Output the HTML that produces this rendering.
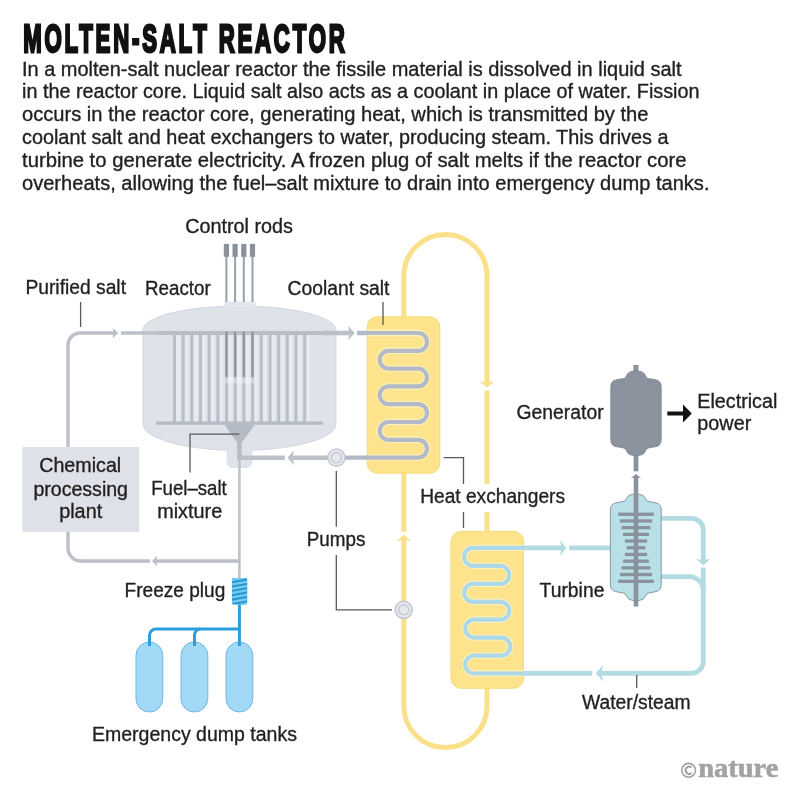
<!DOCTYPE html>
<html><head><meta charset="utf-8">
<style>
html,body{margin:0;padding:0;background:#fff;}
body{width:799px;height:800px;overflow:hidden;}
svg{display:block;}
text{font-family:"Liberation Sans",sans-serif;fill:#231f20;}
svg{will-change:transform;}
.tx text{stroke:#231f20;stroke-width:0.35px;}
</style></head><body>
<svg width="799" height="800" viewBox="0 0 799 800">
<rect width="799" height="800" fill="#fff"/>
<text transform="translate(23.2,51.6) scale(0.56,1)" x="0" y="0" font-weight="bold" font-size="39.6" textLength="574.1" lengthAdjust="spacing" stroke="#111" stroke-width="2.3" vector-effect="non-scaling-stroke" style="fill:#111">MOLTEN-SALT REACTOR</text>
<g class="tx">
<text x="22.0" y="75.5" font-size="19.3" textLength="659.5" lengthAdjust="spacingAndGlyphs" >In a molten-salt nuclear reactor the fissile material is dissolved in liquid salt</text>
<text x="22.0" y="98.3" font-size="19.3" textLength="677.5" lengthAdjust="spacingAndGlyphs" >in the reactor core. Liquid salt also acts as a coolant in place of water. Fission</text>
<text x="22.0" y="121.1" font-size="19.3" textLength="626.5" lengthAdjust="spacingAndGlyphs" >occurs in the reactor core, generating heat, which is transmitted by the</text>
<text x="22.0" y="143.9" font-size="19.3" textLength="646.5" lengthAdjust="spacingAndGlyphs" >coolant salt and heat exchangers to water, producing steam. This drives a</text>
<text x="22.0" y="166.7" font-size="19.3" textLength="664.5" lengthAdjust="spacingAndGlyphs" >turbine to generate electricity. A frozen plug of salt melts if the reactor core</text>
<text x="22.0" y="189.5" font-size="19.3" textLength="687.5" lengthAdjust="spacingAndGlyphs" >overheats, allowing the fuel–salt mixture to drain into emergency dump tanks.</text>
</g>
<g fill="none" stroke="#fbe08a" stroke-width="5">
<path d="M403.8,317 V276 A41.6,41.6 0 0 1 487,276 V531"/>
<path d="M403.8,472 V706 A41.6,41.6 0 0 0 487,706 V687"/>
</g>
<rect x="367.2" y="316.8" width="72.6" height="156.4" rx="10" fill="#fce38c" stroke="#f8db78" stroke-width="1"/>
<rect x="451" y="531.4" width="72.6" height="156.9" rx="10" fill="#fce38c" stroke="#f8db78" stroke-width="1"/>
<g fill="none" stroke="#b2dce2" stroke-width="4.8">
<path d="M523,547.9 H611"/>
<path d="M661,518.3 H691.3 A12,12 0 0 1 703.3,530.3 V661.4 A12,12 0 0 1 691.3,673.4 H520"/>
<path d="M661,576.6 H689.3 A14,14 0 0 1 703.3,590.6"/>
</g>
<clipPath id="hx2c"><rect x="451.5" y="531.9" width="71.6" height="155.9" rx="10"/></clipPath>
<path fill="none" stroke="#fdf1bd" stroke-width="6.4" d="M524.0,547.9 H473.2 A9.00,9.00 0 0 0 473.2,565.9 H501.3 A9.00,9.00 0 0 1 501.3,583.8 H473.2 A9.00,9.00 0 0 0 473.2,601.8 H501.3 A9.00,9.00 0 0 1 501.3,619.7 H473.2 A9.00,9.00 0 0 0 473.2,637.6 H501.3 A9.00,9.00 0 0 1 501.3,655.6 H473.2 A9.00,9.00 0 0 0 473.2,673.5 H523.0" clip-path="url(#hx2c)"/><path fill="none" stroke="#acd8e8" stroke-width="4.2" d="M524.0,547.9 H473.2 A9.00,9.00 0 0 0 473.2,565.9 H501.3 A9.00,9.00 0 0 1 501.3,583.8 H473.2 A9.00,9.00 0 0 0 473.2,601.8 H501.3 A9.00,9.00 0 0 1 501.3,619.7 H473.2 A9.00,9.00 0 0 0 473.2,637.6 H501.3 A9.00,9.00 0 0 1 501.3,655.6 H473.2 A9.00,9.00 0 0 0 473.2,673.5 H523.0"/>
<path d="M143,330 A96.5,24 0 0 1 336,330 V424 A96.5,26.5 0 0 1 143,424 Z" fill="#dee2e9" stroke="#cbd0d8" stroke-width="0.8"/>
<rect x="224.4" y="301.6" width="31.2" height="5.5" fill="#e3e6ec"/>
<path d="M226.5,445 H252.5 V462 A6,6 0 0 1 246.5,468 H232.5 A6,6 0 0 1 226.5,462 Z" fill="#dee2e9"/>
<rect x="176.1" y="335" width="3.6" height="87" fill="#e7eaf0"/>
<rect x="184.8" y="335" width="3.6" height="87" fill="#e7eaf0"/>
<rect x="193.5" y="335" width="3.6" height="87" fill="#e7eaf0"/>
<rect x="202.1" y="335" width="3.6" height="87" fill="#e7eaf0"/>
<rect x="210.8" y="335" width="3.6" height="87" fill="#e7eaf0"/>
<rect x="219.5" y="335" width="3.6" height="87" fill="#e7eaf0"/>
<rect x="228.2" y="335" width="3.6" height="87" fill="#e7eaf0"/>
<rect x="236.9" y="335" width="3.6" height="87" fill="#e7eaf0"/>
<rect x="245.5" y="335" width="3.6" height="87" fill="#e7eaf0"/>
<rect x="254.2" y="335" width="3.6" height="87" fill="#e7eaf0"/>
<rect x="262.9" y="335" width="3.6" height="87" fill="#e7eaf0"/>
<rect x="271.6" y="335" width="3.6" height="87" fill="#e7eaf0"/>
<rect x="280.3" y="335" width="3.6" height="87" fill="#e7eaf0"/>
<rect x="288.9" y="335" width="3.6" height="87" fill="#e7eaf0"/>
<rect x="297.6" y="335" width="3.6" height="87" fill="#e7eaf0"/>
<rect x="306.3" y="335" width="3.6" height="87" fill="#e7eaf0"/>
<line x1="174.5" y1="334" x2="174.5" y2="422" stroke="#b9bfc9" stroke-width="3"/>
<line x1="183.2" y1="334" x2="183.2" y2="422" stroke="#b9bfc9" stroke-width="3"/>
<line x1="191.9" y1="334" x2="191.9" y2="422" stroke="#b9bfc9" stroke-width="3"/>
<line x1="200.5" y1="334" x2="200.5" y2="422" stroke="#b9bfc9" stroke-width="3"/>
<line x1="209.2" y1="334" x2="209.2" y2="422" stroke="#b9bfc9" stroke-width="3"/>
<line x1="217.9" y1="334" x2="217.9" y2="422" stroke="#b9bfc9" stroke-width="3"/>
<line x1="226.6" y1="334" x2="226.6" y2="422" stroke="#b9bfc9" stroke-width="3"/>
<line x1="235.3" y1="334" x2="235.3" y2="422" stroke="#b9bfc9" stroke-width="3"/>
<line x1="243.9" y1="334" x2="243.9" y2="422" stroke="#b9bfc9" stroke-width="3"/>
<line x1="252.6" y1="334" x2="252.6" y2="422" stroke="#b9bfc9" stroke-width="3"/>
<line x1="261.3" y1="334" x2="261.3" y2="422" stroke="#b9bfc9" stroke-width="3"/>
<line x1="270.0" y1="334" x2="270.0" y2="422" stroke="#b9bfc9" stroke-width="3"/>
<line x1="278.7" y1="334" x2="278.7" y2="422" stroke="#b9bfc9" stroke-width="3"/>
<line x1="287.3" y1="334" x2="287.3" y2="422" stroke="#b9bfc9" stroke-width="3"/>
<line x1="296.0" y1="334" x2="296.0" y2="422" stroke="#b9bfc9" stroke-width="3"/>
<line x1="304.7" y1="334" x2="304.7" y2="422" stroke="#b9bfc9" stroke-width="3"/>
<line x1="156" y1="423.1" x2="323" y2="423.1" stroke="#b5bbc5" stroke-width="3.4"/>
<polygon points="224.5,424.5 255,424.5 242.2,442 236.6,442" fill="#b5bbc5"/>
<rect x="237.2" y="440" width="4.4" height="20" fill="#b5bbc5"/>
<line x1="226.4" y1="256" x2="226.4" y2="302" stroke="#9aa0a8" stroke-width="2"/>
<rect x="223.8" y="243.9" width="5.2" height="12.9" fill="#8b919a"/>
<line x1="235.1" y1="256" x2="235.1" y2="302" stroke="#9aa0a8" stroke-width="2"/>
<rect x="232.5" y="243.9" width="5.2" height="12.9" fill="#8b919a"/>
<line x1="243.8" y1="256" x2="243.8" y2="302" stroke="#9aa0a8" stroke-width="2"/>
<rect x="241.2" y="243.9" width="5.2" height="12.9" fill="#8b919a"/>
<line x1="252.5" y1="256" x2="252.5" y2="302" stroke="#9aa0a8" stroke-width="2"/>
<rect x="249.9" y="243.9" width="5.2" height="12.9" fill="#8b919a"/>
<g fill="none" stroke="#bcc0c9" stroke-width="3.4">
<path d="M68,447 V345 A12,12 0 0 1 80,333 H157"/>
<path d="M68,532 V548 A13,13 0 0 0 81,561 H239.4"/>
</g>
<g fill="none" stroke="#bcc0c9" stroke-width="4.6">
<path d="M323,333 H367"/>
<path d="M239.4,457.7 H345"/>
</g>
<line x1="239.4" y1="459" x2="239.4" y2="579" stroke="#bcc0c9" stroke-width="2.5"/>
<line x1="156" y1="333" x2="324" y2="333" stroke="#b9bfc8" stroke-width="4.2"/>
<line x1="226.4" y1="331.5" x2="226.4" y2="378" stroke="#8e949e" stroke-width="2.2"/>
<line x1="235.1" y1="331.5" x2="235.1" y2="378" stroke="#8e949e" stroke-width="2.2"/>
<line x1="243.8" y1="331.5" x2="243.8" y2="378" stroke="#8e949e" stroke-width="2.2"/>
<line x1="252.5" y1="331.5" x2="252.5" y2="378" stroke="#8e949e" stroke-width="2.2"/>
<rect x="224.5" y="376.6" width="31" height="7" fill="#fff" opacity="0.3"/>
<clipPath id="hx1c"><rect x="367.7" y="317.3" width="71.6" height="155.4" rx="10"/></clipPath>
<path fill="none" stroke="#fdf1bd" stroke-width="6.4" d="M357.0,333.0 H418.1 A8.90,8.90 0 0 1 418.1,350.8 H388.6 A8.90,8.90 0 0 0 388.6,368.6 H418.1 A8.90,8.90 0 0 1 418.1,386.4 H388.6 A8.90,8.90 0 0 0 388.6,404.2 H418.1 A8.90,8.90 0 0 1 418.1,422.0 H388.6 A8.90,8.90 0 0 0 388.6,439.8 H418.1 A8.90,8.90 0 0 1 418.1,457.6 H345.0" clip-path="url(#hx1c)"/><path fill="none" stroke="#b3bac6" stroke-width="4.2" d="M357.0,333.0 H418.1 A8.90,8.90 0 0 1 418.1,350.8 H388.6 A8.90,8.90 0 0 0 388.6,368.6 H418.1 A8.90,8.90 0 0 1 418.1,386.4 H388.6 A8.90,8.90 0 0 0 388.6,404.2 H418.1 A8.90,8.90 0 0 1 418.1,422.0 H388.6 A8.90,8.90 0 0 0 388.6,439.8 H418.1 A8.90,8.90 0 0 1 418.1,457.6 H345.0"/>
<circle cx="336.4" cy="457.6" r="8.7" fill="#e2e5eb" stroke="#c2c7d0" stroke-width="1.4"/>
<circle cx="336.4" cy="457.6" r="4.9" fill="#e6e8ee" stroke="#c2c7d0" stroke-width="1.2"/>
<circle cx="403.7" cy="609.8" r="8.7" fill="#e2e5eb" stroke="#c2c7d0" stroke-width="1.4"/>
<circle cx="403.7" cy="609.8" r="4.9" fill="#e6e8ee" stroke="#c2c7d0" stroke-width="1.2"/>
<rect x="22.4" y="447" width="116.8" height="85" fill="#dee1e8"/>
<rect x="136.0" y="642" width="26.8" height="70" rx="13.4" fill="#a1d9f6" stroke="#6cb9e2" stroke-width="1"/>
<rect x="181.0" y="642" width="26.8" height="70" rx="13.4" fill="#a1d9f6" stroke="#6cb9e2" stroke-width="1"/>
<rect x="226.0" y="642" width="26.8" height="70" rx="13.4" fill="#a1d9f6" stroke="#6cb9e2" stroke-width="1"/>
<g fill="none" stroke="#2a9fdc" stroke-width="3">
<path d="M239.4,603 V646"/>
<path d="M239.4,629 H156 A6.5,6.5 0 0 0 149.5,635.5 V646"/>
<path d="M200.5,629 A6,6 0 0 0 194.5,635 V646"/>
</g>
<clipPath id="fp"><rect x="232" y="578" width="15.2" height="26.4" rx="1.5"/></clipPath>
<rect x="232" y="578" width="15.2" height="26.4" rx="1.5" fill="#2a95cf"/>
<g clip-path="url(#fp)" stroke="#74cdf4" stroke-width="2.3">
<line x1="231" y1="580.2" x2="248" y2="577.2"/>
<line x1="231" y1="584.6" x2="248" y2="581.6"/>
<line x1="231" y1="588.9" x2="248" y2="585.9"/>
<line x1="231" y1="593.2" x2="248" y2="590.2"/>
<line x1="231" y1="597.6" x2="248" y2="594.6"/>
<line x1="231" y1="602.0" x2="248" y2="599.0"/>
<line x1="231" y1="606.3" x2="248" y2="603.3"/>
</g>
<rect x="633.4" y="365" width="5" height="8" fill="#8a929d"/>
<rect x="633.6" y="454" width="4.8" height="17.3" fill="#8a929d"/>
<path d="M610.8,387 Q610.8,380.5 616.5,379.8 L623.5,378.5 Q626,378 626.5,375.5 Q628,370.9 636,370.9 Q644,370.9 645.5,375.5 Q646,378 648.5,378.5 L655.5,379.8 Q661.2,380.5 661.2,387 V439.5 Q661.2,446 655.5,446.7 L648.5,448 Q646,448.5 645.5,451 Q644,455.6 636,455.6 Q628,455.6 626.5,451 Q626,448.5 623.5,448 L616.5,446.7 Q610.8,446 610.8,439.5 Z" fill="#8a929d" stroke="#7c8490" stroke-width="0.8"/>
<line x1="667.3" y1="413.5" x2="684" y2="413.5" stroke="#111" stroke-width="4"/>
<polygon points="691.8,413.5 683,404.5 683,422.5" fill="#111"/>
<path d="M610.4,510 Q610.4,504 615.5,503 L623.5,501.3 Q626,500.8 626.5,498.5 Q628.5,494 636,494 Q643.5,494 645.5,498.5 Q646,500.8 648.5,501.3 L656,503 Q661.2,504 661.2,510 V584.5 Q661.2,590.5 656,591.5 L648.5,593.2 Q646,593.7 645.5,596 Q643.5,600.7 636,600.7 Q628.5,600.7 626.5,596 Q626,593.7 623.5,593.2 L615.5,591.5 Q610.4,590.5 610.4,584.5 Z" fill="#b8e0e6" stroke="#8497a1" stroke-width="1"/>
<rect x="618.2" y="512.6" width="35.6" height="3.3" fill="#8a929d"/>
<rect x="619.9" y="519.3" width="32.2" height="3.3" fill="#8a929d"/>
<rect x="621.5" y="526.0" width="29.0" height="3.3" fill="#8a929d"/>
<rect x="623.1" y="532.7" width="25.8" height="3.3" fill="#8a929d"/>
<rect x="624.9" y="539.4" width="22.2" height="3.3" fill="#8a929d"/>
<rect x="626.7" y="546.1" width="18.6" height="3.3" fill="#8a929d"/>
<rect x="624.9" y="552.8" width="22.2" height="3.3" fill="#8a929d"/>
<rect x="623.1" y="559.5" width="25.8" height="3.3" fill="#8a929d"/>
<rect x="621.5" y="566.2" width="29.0" height="3.3" fill="#8a929d"/>
<rect x="619.9" y="572.9" width="32.2" height="3.3" fill="#8a929d"/>
<rect x="618.2" y="579.7" width="35.6" height="3.3" fill="#8a929d"/>
<rect x="633.7" y="476" width="4.6" height="130.5" fill="#8a929d"/>
<polygon points="636,473.9 630.8,478.3 636,477.3 641.2,478.3" fill="#8a929d"/>
<rect x="115.3" y="330.7" width="5.6" height="4.6" fill="#fff"/><polygon points="118.3,333.0 112.6,327.8 113.4,333.0 112.6,338.2" fill="#bcc0c9"/>
<rect x="351.7" y="330.1" width="5.3" height="5.8" fill="#fff"/><polygon points="354.7,333.0 348.0,325.7 349.5,333.0 348.0,340.3" fill="#bcc0c9"/>
<rect x="284.8" y="454.8" width="5.7" height="5.8" fill="#fff"/><polygon points="287.5,457.7 294.0,450.2 292.5,457.7 294.0,465.2" fill="#bcc0c9"/>
<rect x="150.0" y="558.7" width="5.0" height="4.6" fill="#fff"/><polygon points="152.0,561.0 157.2,555.5 156.4,561.0 157.2,566.5" fill="#bcc0c9"/>
<rect x="483.9" y="384.5" width="6.2" height="6.0" fill="#fff"/><polygon points="487.0,387.5 479.5,381.3 487.0,382.8 494.5,381.3" fill="#fbe08a"/>
<rect x="400.6" y="531.8" width="6.2" height="6.0" fill="#fff"/><polygon points="403.7,534.8 396.0,541.0 403.7,539.5 411.4,541.0" fill="#fbe08a"/>
<rect x="563.5" y="544.9" width="5.7" height="6.0" fill="#fff"/><polygon points="566.5,547.9 560.0,540.4 561.5,547.9 560.0,555.4" fill="#b2dce2"/>
<rect x="700.3" y="562.3" width="6.0" height="5.3" fill="#fff"/><polygon points="703.3,565.3 696.0,558.8 703.3,560.3 710.6,558.8" fill="#b2dce2"/>
<rect x="592.3" y="670.3" width="6.2" height="6.0" fill="#fff"/><polygon points="595.5,673.3 603.0,665.3 601.5,673.3 603.0,681.3" fill="#b2dce2"/>
<g fill="none" stroke="#58595c" stroke-width="1.3">
<path d="M80.6,302 V327"/>
<path d="M383,302 V325"/>
<path d="M239.4,434.2 H190 V472.4"/>
<path d="M336.3,471 V526.7 M336.3,555 V609.8 H392"/>
<path d="M443.6,457.6 H463.5 V484 M463.5,512 V528"/>
<path d="M636.7,675 V688"/>
</g>
<rect x="484" y="484" width="6" height="28" fill="#fff"/>
<g class="tx">
<text x="185.2" y="232.9" font-size="20.0" textLength="107.8" lengthAdjust="spacingAndGlyphs" >Control rods</text>
<text x="25.4" y="294.4" font-size="20.0" textLength="100.6" lengthAdjust="spacingAndGlyphs" >Purified salt</text>
<text x="145.0" y="294.7" font-size="20.0" textLength="65.7" lengthAdjust="spacingAndGlyphs" >Reactor</text>
<text x="287.5" y="294.5" font-size="20.0" textLength="102.0" lengthAdjust="spacingAndGlyphs" >Coolant salt</text>
<text x="39.2" y="471.8" font-size="20.0" textLength="82.0" lengthAdjust="spacingAndGlyphs" >Chemical</text>
<text x="33.4" y="495.8" font-size="20.0" textLength="94.6" lengthAdjust="spacingAndGlyphs" >processing</text>
<text x="59.2" y="518.0" font-size="20.0" textLength="43.0" lengthAdjust="spacingAndGlyphs" >plant</text>
<text x="151.2" y="494.9" font-size="20.0" textLength="75.6" lengthAdjust="spacingAndGlyphs" >Fuel–salt</text>
<text x="157.2" y="518.0" font-size="20.0" textLength="65.0" lengthAdjust="spacingAndGlyphs" >mixture</text>
<text x="306.8" y="546.4" font-size="20.0" textLength="58.6" lengthAdjust="spacingAndGlyphs" >Pumps</text>
<text x="420.2" y="503.4" font-size="20.0" textLength="144.8" lengthAdjust="spacingAndGlyphs" >Heat exchangers</text>
<text x="516.6" y="419.1" font-size="20.0" textLength="87.0" lengthAdjust="spacingAndGlyphs" >Generator</text>
<text x="697.3" y="407.6" font-size="20.0" textLength="80.0" lengthAdjust="spacingAndGlyphs" >Electrical</text>
<text x="697.3" y="430.0" font-size="20.0" textLength="54.0" lengthAdjust="spacingAndGlyphs" >power</text>
<text x="539.6" y="597.1" font-size="20.0" textLength="64.8" lengthAdjust="spacingAndGlyphs" >Turbine</text>
<text x="124.6" y="597.4" font-size="20.0" textLength="100.7" lengthAdjust="spacingAndGlyphs" >Freeze plug</text>
<text x="582.0" y="709.1" font-size="20.0" textLength="108.6" lengthAdjust="spacingAndGlyphs" >Water/steam</text>
<text x="92.0" y="741.2" font-size="20.0" textLength="205.0" lengthAdjust="spacingAndGlyphs" >Emergency dump tanks</text>
</g>
<circle cx="688.6" cy="770.3" r="6.9" fill="none" stroke="#a3a3a3" stroke-width="1.6"/>
<path d="M691.6,767.6 A3.6,3.6 0 1 0 691.6,773" fill="none" stroke="#a3a3a3" stroke-width="2"/>
<text x="698.3" y="777.3" font-weight="bold" font-size="27.5" textLength="80" lengthAdjust="spacingAndGlyphs" stroke="#a3a3a3" stroke-width="0.6" style="fill:#a3a3a3;font-family:'Liberation Serif',serif">nature</text>
</svg>
</body></html>
